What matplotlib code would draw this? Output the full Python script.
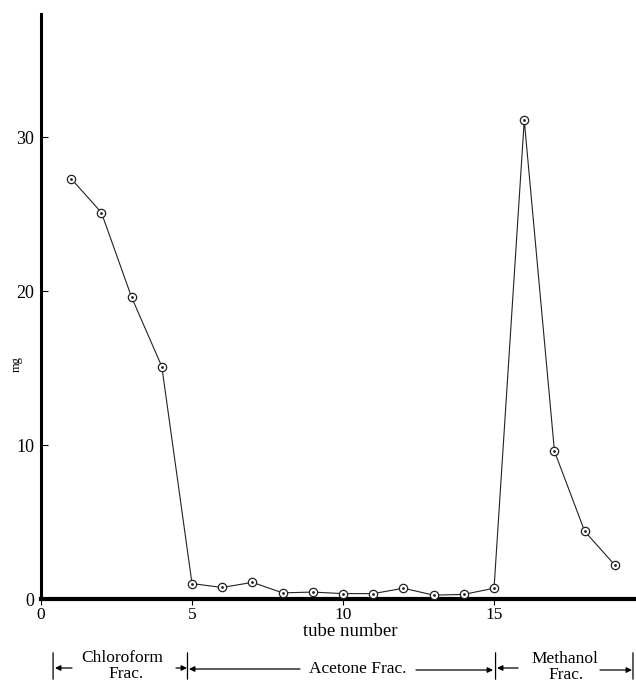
import numpy as np
import matplotlib
matplotlib.use('Agg')
import matplotlib.pyplot as plt

# tube numbers and amounts (mg)
tubes = [1, 2, 3, 4, 5, 6, 7, 8, 9, 10, 11, 12, 13, 14, 15, 16, 17, 18, 19]
mg = [27.3, 25.1, 19.6, 15.1, 1.0, 0.75, 1.08, 0.4, 0.45, 0.35, 0.35, 0.7, 0.25, 0.3, 0.7, 31.1, 9.6, 4.4, 2.2]

xticks = [0, 5, 10, 15]
yticks = [0, 10, 20, 30]

# fraction boundaries (in tube-number units)
bounds = [0.4, 4.85, 15.05, 19.6]

plt.rcParams['font.family'] = ['Liberation Serif', 'DejaVu Serif']

fig = plt.figure(figsize=(6.36, 6.82), dpi=100)
ax = fig.add_axes([41/636, 1 - 599/682, 1 - 41/636, (599 - 14)/682])

ax.plot(tubes, mg, color='#222222', lw=0.8, zorder=2)
ax.plot(tubes, mg, 'o', ms=6, mfc='white', mec='#222222', mew=0.9, zorder=3)
ax.plot(tubes, mg, '.', ms=2, color='#222222', zorder=4)

ax.set_xlim(0, 19.7)
ax.set_ylim(0, 38)
ax.set_xticks(xticks)
ax.set_yticks(yticks)
ax.tick_params(axis='y', direction='in', length=5, width=0.8, labelsize=13, pad=5)
ax.tick_params(axis='x', direction='out', length=4, width=0.8, labelsize=12.5, pad=2)

for s in ['top', 'right']:
    ax.spines[s].set_visible(False)
ax.spines['left'].set_linewidth(2.2)
ax.spines['bottom'].set_linewidth(3)

ax.set_xlabel('tube number', fontsize=13.5)
ax.xaxis.set_label_coords(0.52, (599 - 632) / 585)
ax.xaxis.label.set_va('center')
ax.set_ylabel('mg', fontsize=9)
ax.yaxis.set_label_coords((17 - 41) / 595, (599 - 364) / 585)
ax.yaxis.label.set_va('center')

# fraction brackets below the axis (y in figure pixels from bottom)
tr = ('data', 'figure pixels')
for b in bounds:
    ax.annotate('', xy=(b, 32), xytext=(b, 0), xycoords=tr, textcoords=tr,
                arrowprops=dict(arrowstyle='-', lw=0.9, color='black'), annotation_clip=False)

def px(x):
    return (x - 41) / 595 * 19.7

fs = 12.5
ax.annotate('Chloroform', xy=(px(122), 24), xycoords=tr, ha='center', va='center',
            fontsize=fs, annotation_clip=False)
ax.annotate('Frac.', xy=(px(126), 8), xycoords=tr, ha='center', va='center',
            fontsize=fs, annotation_clip=False)
ax.annotate('Acetone Frac.', xy=(px(358), 13), xycoords=tr, ha='center', va='center',
            fontsize=fs, annotation_clip=False)
ax.annotate('Methanol', xy=(px(565), 23), xycoords=tr, ha='center', va='center',
            fontsize=fs, annotation_clip=False)
ax.annotate('Frac.', xy=(px(566), 7), xycoords=tr, ha='center', va='center',
            fontsize=fs, annotation_clip=False)

# (start px, end px, y) - arrow head at end
arrows = [
    (72, 55, 14), (176, 187, 14),
    (300, 189, 13), (416, 493, 12),
    (518, 497, 14), (600, 632, 12),
]
for x0, x1, yy in arrows:
    ax.annotate('', xy=(px(x1), yy), xytext=(px(x0), yy), xycoords=tr, textcoords=tr,
                arrowprops=dict(arrowstyle='-|>', lw=0.9, color='black', mutation_scale=8,
                                shrinkA=0, shrinkB=0), annotation_clip=False)

fig.savefig('out.png', dpi=100)
